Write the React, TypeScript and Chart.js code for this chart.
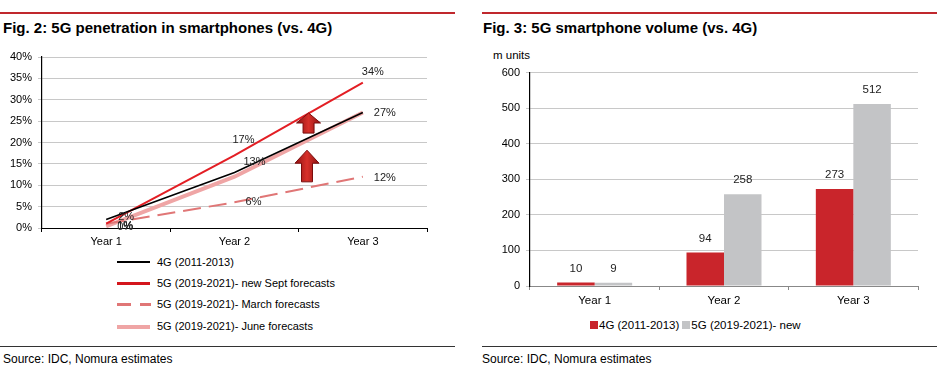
import React, { useEffect, useRef } from 'react';
import { Chart, registerables } from 'chart.js';

Chart.register(...registerables);

const FONT = '"Liberation Sans", Arial, Helvetica, sans-serif';

// ---- Fig. 2: 5G penetration in smartphones (vs. 4G) ----
const penCategories = ['Year 1', 'Year 2', 'Year 3'];
const pen4G = [2, 13, 27];
const pen5GSept = [1, 17, 34];
const pen5GMarch = [1, 6, 12];
const pen5GJune = [0.4, 12, 27];
const penSeriesNames = [
  '4G (2011-2013)',
  '5G (2019-2021)- new Sept forecasts',
  '5G (2019-2021)- March forecasts',
  '5G (2019-2021)- June forecasts',
];
// label offsets (px) relative to each point; null = no label
const penLabelOffsets: ([number, number] | null)[][] = [
  [[20, -2], [20, -10], [22, 0]],
  [[19, 2], [9, -15], [10, -11]],
  [[19, 2], [19, 0], [22, 1]],
  [[19, 1], null, null],
];
// up arrows: x in category units, y in % units
const penArrows = [
  { x: 1.577, top: 26.9, bottom: 22.2, head: 10 },
  { x: 1.565, top: 18.2, bottom: 10.8, head: 13 },
];

// ---- Fig. 3: 5G smartphone volume (vs. 4G) ----
const volCategories = ['Year 1', 'Year 2', 'Year 3'];
const vol4G = [10, 94, 273];
const vol5G = [9, 258, 512];
const volSeriesNames = ['4G (2011-2013)', '5G (2019-2021)- new'];

const RED = '#c9252b';
const GREY = '#c3c4c6';

export default function App() {
  const leftRef = useRef<HTMLCanvasElement>(null);
  const rightRef = useRef<HTMLCanvasElement>(null);

  useEffect(() => {
    const lineLabels = {
      id: 'lineLabels',
      afterDatasetsDraw(chart: any) {
        const ctx = chart.ctx;
        const xs = chart.scales.x;
        const ys = chart.scales.y;
        ctx.save();
        // arrows
        penArrows.forEach((a) => {
          const cx = xs.getPixelForValue(a.x);
          const yt = ys.getPixelForValue(a.top);
          const yb = ys.getPixelForValue(a.bottom);
          const hw = 12;
          const bw = 5.5;
          const yh = yt + a.head;
          const g = ctx.createLinearGradient(cx - hw, 0, cx + hw, 0);
          g.addColorStop(0, '#8e1212');
          g.addColorStop(0.5, '#d8302a');
          g.addColorStop(1, '#8e1212');
          ctx.beginPath();
          ctx.moveTo(cx, yt);
          ctx.lineTo(cx + hw, yh);
          ctx.lineTo(cx + bw, yh);
          ctx.lineTo(cx + bw, yb);
          ctx.lineTo(cx - bw, yb);
          ctx.lineTo(cx - bw, yh);
          ctx.lineTo(cx - hw, yh);
          ctx.closePath();
          ctx.fillStyle = g;
          ctx.fill();
          ctx.strokeStyle = '#7a0c0c';
          ctx.lineWidth = 1;
          ctx.stroke();
        });
        // labels
        ctx.font = `11px ${FONT}`;
        ctx.fillStyle = '#222';
        ctx.textAlign = 'center';
        ctx.textBaseline = 'middle';
        chart.data.datasets.forEach((ds: any, i: number) => {
          const meta = chart.getDatasetMeta(i);
          meta.data.forEach((pt: any, j: number) => {
            const o = penLabelOffsets[i][j];
            if (!o) return;
            ctx.fillText(Math.round(ds.data[j]) + '%', pt.x + o[0], pt.y + o[1]);
          });
        });
        ctx.restore();
      },
    };

    const barLabels = {
      id: 'barLabels',
      afterDatasetsDraw(chart: any) {
        const ctx = chart.ctx;
        ctx.save();
        ctx.font = `11.5px ${FONT}`;
        ctx.fillStyle = '#222';
        ctx.textAlign = 'center';
        ctx.textBaseline = 'middle';
        chart.data.datasets.forEach((ds: any, i: number) => {
          const meta = chart.getDatasetMeta(i);
          meta.data.forEach((bar: any, j: number) => {
            ctx.fillText(String(ds.data[j]), bar.x, bar.y - 14);
          });
        });
        ctx.restore();
      },
    };

    const c1 = new Chart(leftRef.current!, {
      type: 'line',
      data: {
        labels: penCategories,
        datasets: [
          { label: penSeriesNames[0], data: pen4G, borderColor: '#000', borderWidth: 1.6, pointRadius: 0 },
          { label: penSeriesNames[1], data: pen5GSept, borderColor: '#e31e24', borderWidth: 2, pointRadius: 0 },
          { label: penSeriesNames[2], data: pen5GMarch, borderColor: '#e07676', borderWidth: 2, borderDash: [18, 8], pointRadius: 0 },
          { label: penSeriesNames[3], data: pen5GJune, borderColor: '#efa5a5', borderWidth: 4, pointRadius: 0 },
        ],
      },
      options: {
        responsive: false,
        animation: false,
        layout: { padding: { left: 0, right: 28, top: 17, bottom: 7 } },
        plugins: { legend: { display: false }, tooltip: { enabled: false } },
        scales: {
          x: {
            offset: true,
            grid: { offset: true, drawOnChartArea: false, color: '#000', tickLength: 4 },
            border: { color: '#000', width: 1 },
            ticks: { padding: 3, color: '#000', font: { family: FONT, size: 11 } },
            afterFit: (s: any) => { s.height = 20; },
          },
          y: {
            min: 0,
            max: 40,
            ticks: { stepSize: 5, padding: 6, color: '#000', font: { family: FONT, size: 11 }, callback: (v: any) => v + '%' },
            grid: { color: '#c8c8c8', tickLength: 4 },
            border: { color: '#000', width: 1.2 },
            afterFit: (s: any) => { s.width = 42; },
          },
        },
      },
      plugins: [lineLabels],
    } as any);

    const c2 = new Chart(rightRef.current!, {
      type: 'bar',
      data: {
        labels: volCategories,
        datasets: [
          { label: volSeriesNames[0], data: vol4G, backgroundColor: RED, categoryPercentage: 0.58, barPercentage: 1 },
          { label: volSeriesNames[1], data: vol5G, backgroundColor: GREY, categoryPercentage: 0.58, barPercentage: 1 },
        ],
      },
      options: {
        responsive: false,
        animation: false,
        layout: { padding: { left: 0, right: 22, top: 10, bottom: 4 } },
        plugins: { legend: { display: false }, tooltip: { enabled: false } },
        scales: {
          x: {
            grid: { offset: true, drawOnChartArea: false, color: '#888', tickLength: 4 },
            border: { color: '#888', width: 1 },
            ticks: { padding: 4, color: '#000', font: { family: FONT, size: 11.5 } },
            afterFit: (s: any) => { s.height = 20; },
          },
          y: {
            min: 0,
            max: 600,
            ticks: { stepSize: 100, padding: 6, color: '#000', font: { family: FONT, size: 11 } },
            grid: { color: '#c8c8c8', tickLength: 4 },
            border: { color: '#000', width: 1.2 },
            afterFit: (s: any) => { s.width = 60; },
          },
        },
      },
      plugins: [barLabels],
    } as any);

    return () => {
      c1.destroy();
      c2.destroy();
    };
  }, []);

  const legendLine = (i: number) => {
    const common: React.CSSProperties = { position: 'absolute', left: 117, width: 33 };
    if (i === 0) return <div style={{ ...common, height: 2, background: '#000' }} />;
    if (i === 1) return <div style={{ ...common, height: 3, background: '#d4161c' }} />;
    if (i === 2)
      return (
        <>
          <div style={{ ...common, width: 14, height: 3, background: '#e07676' }} />
          <div style={{ ...common, left: 140, width: 11, height: 3, background: '#e07676' }} />
        </>
      );
    return <div style={{ ...common, height: 4, background: '#efa5a5' }} />;
  };

  const legendRowsY = [262, 283, 304, 326];

  return (
    <div
      style={{
        position: 'absolute',
        left: 0,
        top: 0,
        width: 940,
        height: 377,
        background: '#fff',
        fontFamily: FONT,
        color: '#000',
        overflow: 'hidden',
      }}
    >
      {/* left panel */}
      <div style={{ position: 'absolute', left: 0, top: 12, width: 455, height: 2, background: '#c0282d' }} />
      <div style={{ position: 'absolute', left: 3, top: 19, fontSize: 15, fontWeight: 'bold', whiteSpace: 'nowrap' }}>
        Fig. 2: 5G penetration in smartphones (vs. 4G)
      </div>
      <canvas ref={leftRef} width={455} height={215} style={{ position: 'absolute', left: 0, top: 40, width: 455, height: 215 }} />
      {penSeriesNames.map((name, i) => (
        <div key={name} style={{ position: 'absolute', left: 0, top: legendRowsY[i] - 7, width: 455, height: 14 }}>
          <div style={{ position: 'absolute', left: 0, top: 6, width: 455, height: 4 }}>{legendLine(i)}</div>
          <div style={{ position: 'absolute', left: 157, top: 0, fontSize: 11, lineHeight: '14px', whiteSpace: 'nowrap' }}>{name}</div>
        </div>
      ))}
      <div style={{ position: 'absolute', left: 0, top: 346, width: 455, height: 1, background: '#333' }} />
      <div style={{ position: 'absolute', left: 3, top: 352, fontSize: 12, whiteSpace: 'nowrap' }}>Source: IDC, Nomura estimates</div>

      {/* right panel */}
      <div style={{ position: 'absolute', left: 482, top: 12, width: 455, height: 2, background: '#c0282d' }} />
      <div style={{ position: 'absolute', left: 483, top: 19, fontSize: 15, fontWeight: 'bold', whiteSpace: 'nowrap' }}>
        Fig. 3: 5G smartphone volume (vs. 4G)
      </div>
      <div style={{ position: 'absolute', left: 493, top: 49, fontSize: 11.5, whiteSpace: 'nowrap' }}>m units</div>
      <canvas ref={rightRef} width={470} height={250} style={{ position: 'absolute', left: 470, top: 60, width: 470, height: 250 }} />
      <div style={{ position: 'absolute', left: 590, top: 318, display: 'flex', alignItems: 'center', fontSize: 11.5, whiteSpace: 'nowrap', lineHeight: '14px' }}>
        <span style={{ display: 'inline-block', width: 8, height: 8, background: RED, marginRight: 1 }} />
        <span style={{ marginRight: 3 }}>{volSeriesNames[0]}</span>
        <span style={{ display: 'inline-block', width: 8, height: 8, background: GREY, marginRight: 1 }} />
        <span>{volSeriesNames[1]}</span>
      </div>
      <div style={{ position: 'absolute', left: 482, top: 346, width: 455, height: 1, background: '#333' }} />
      <div style={{ position: 'absolute', left: 482, top: 352, fontSize: 12, whiteSpace: 'nowrap' }}>Source: IDC, Nomura estimates</div>
    </div>
  );
}
